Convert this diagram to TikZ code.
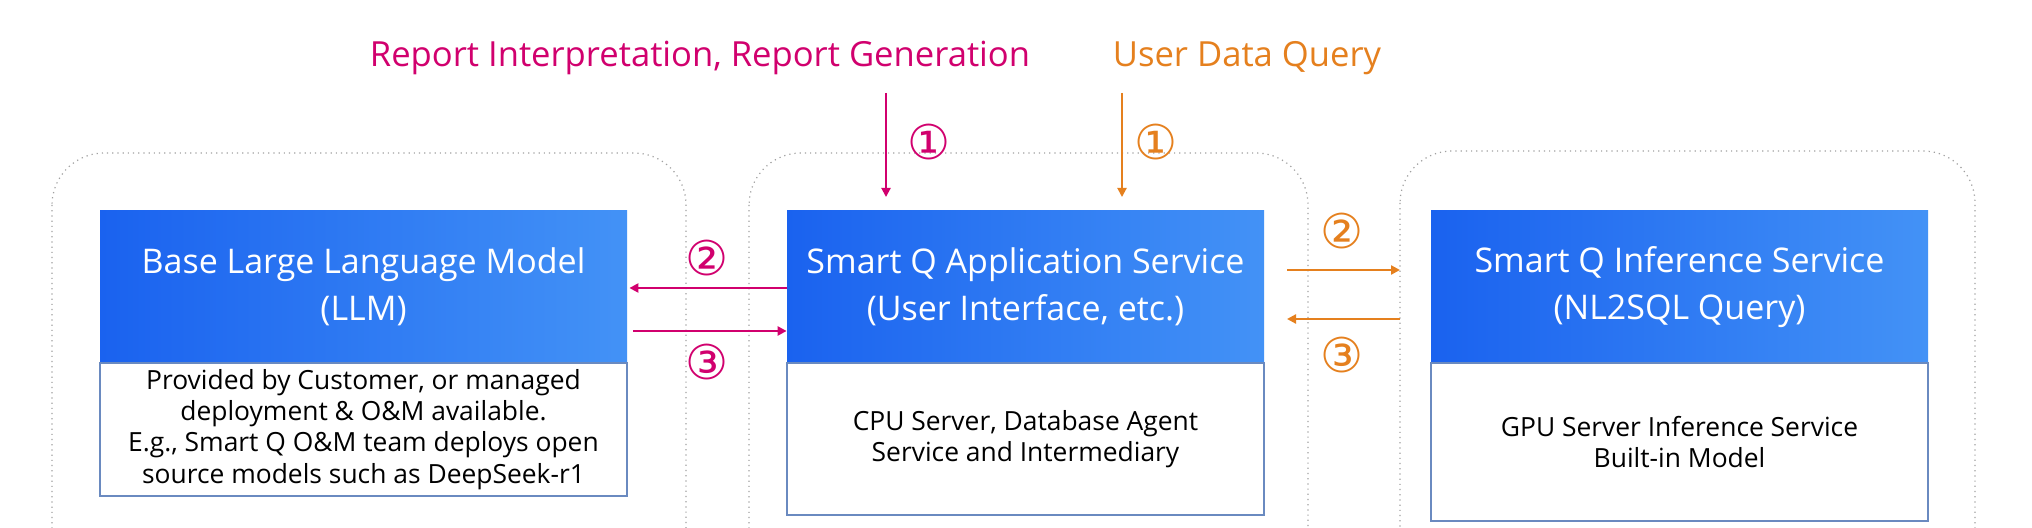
\documentclass[tikz,border=0pt]{standalone}
\usepackage{fontspec}
\setmainfont{Open Sans}
\newfontfamily\symfont{DejaVu Sans}
\usetikzlibrary{arrows.meta}
\definecolor{pinkc}{HTML}{D1006E}
\definecolor{orangec}{HTML}{E5801E}
\definecolor{blueL}{HTML}{1A62EF}
\definecolor{blueR}{HTML}{4392F6}
\definecolor{edgec}{HTML}{6A8AC0}
\definecolor{dotc}{HTML}{A0A0A0}
\tikzset{
  outerbox/.style={draw=dotc, dotted, line width=0.6pt, rounded corners=26pt},
  headbox/.style={inner sep=0pt, left color=blueL, right color=blueR, text=white,
     font=\fontsize{17}{23.5}\selectfont, align=center},
  bodybox/.style={draw=edgec, line width=0.6pt, fill=white, inner sep=0pt,
     font=\fontsize{13.2}{15.6}\selectfont, align=center},
  toplabel/.style={inner sep=0pt, font=\fontsize{17.3}{20}\selectfont},
  numlabel/.style={inner sep=0pt, font=\symfont\fontsize{24}{24}\selectfont},
  parr/.style={draw=pinkc, line width=1.3pt, -{Triangle[length=4.5pt,width=4.5pt]}},
  oarr/.style={draw=orangec, line width=1.3pt, -{Triangle[length=4.5pt,width=4.5pt]}},
}
\begin{document}
\begin{tikzpicture}[x=0.5pt,y=-0.5pt]
\useasboundingbox (0,0) rectangle (2032,528);
\fill[white] (0,0) rectangle (2032,528);
\begin{scope}
\clip (0,0) rectangle (2032,528);
\draw[outerbox] (52,153) rectangle (686,800);
\draw[outerbox] (749,153) rectangle (1308,800);
\draw[outerbox] (1400,151) rectangle (1975,800);
\end{scope}

% headers
\node[headbox, minimum width=263.5pt, minimum height=76pt] (llmhead) at (363.5,287)
  {Base Large Language Model\\(LLM)};
\node[bodybox, minimum width=263.5pt, minimum height=66.5pt] (llmbody) at (363.5,429.5)
  {Provided by Customer, or managed\\deployment \& O\&M available.\\E.g., Smart Q O\&M team deploys open\\source models such as DeepSeek-r1};

\node[headbox, minimum width=238.5pt, minimum height=76pt] (midhead) at (1025.5,287)
  {Smart Q Application Service\\(User Interface, etc.)};
\node[bodybox, minimum width=238.5pt, minimum height=76pt] (midbody) at (1025.5,439)
  {CPU Server, Database Agent\\Service and Intermediary};

\node[headbox, minimum width=248.5pt, minimum height=76pt] (infhead) at (1679.5,287)
  {Smart Q Inference Service\\(NL2SQL Query)};
\node[bodybox, minimum width=248.5pt, minimum height=79pt] (infbody) at (1679.5,442)
  {GPU Server Inference Service\\Built-in Model};

% top labels
\node[toplabel, text=pinkc] (rep) at (700,58) {Report Interpretation, Report Generation};
\node[toplabel, text=orangec] (udq) at (1247,58) {User Data Query};

\coordinate (p1s) at (886,93);
\coordinate (p1e) at (886,197);
\coordinate (o1s) at (1122,93);
\coordinate (o1e) at (1122,197);
\draw[parr, line width=1pt] (p1s) -- (p1e);
\draw[oarr, line width=1pt] (o1s) -- (o1e);

\draw[parr] (midhead.west |- 0,288) -- ([xshift=1pt]llmhead.east |- 0,288);
\draw[parr] ([xshift=3pt]llmhead.east |- 0,331) -- (midhead.west |- 0,331);
\coordinate (o2s) at (1287,270);
\coordinate (o2e) at (1400,270);
\coordinate (o3s) at (1400,319);
\coordinate (o3e) at (1287,319);
\draw[oarr] (o2s) -- (o2e);
\draw[oarr] (o3s) -- (o3e);

\node[numlabel, text=pinkc] (n1p) at (929,142) {①};
\node[numlabel, text=orangec] (n1o) at (1156,142) {①};
\node[numlabel, text=pinkc] (n2p) at (707,258) {②};
\node[numlabel, text=pinkc] (n3p) at (707,362) {③};
\node[numlabel, text=orangec] (n2o) at (1342,231) {②};
\node[numlabel, text=orangec] (n3o) at (1342,355) {③};
\end{tikzpicture}
\end{document}
